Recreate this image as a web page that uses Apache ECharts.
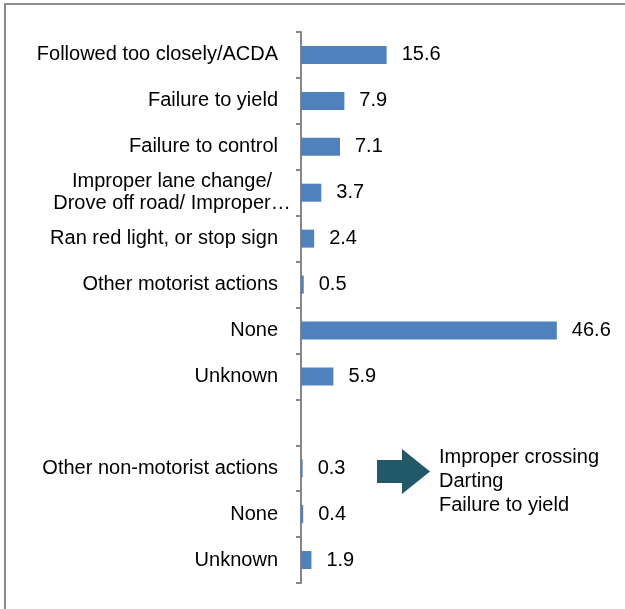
<!DOCTYPE html>
<html>
<head>
<meta charset="utf-8">
<script src="https://cdn.jsdelivr.net/npm/echarts@6/dist/echarts.min.js"></script>
<style>
  html, body { margin: 0; padding: 0; background: #fff; }
  #chart { width: 625px; height: 609px; }
</style>
</head>
<body>
<div id="chart"></div>
<script>
  // categories top to bottom (blank row separates motorist / non-motorist)
  const categories = [
    "Followed too closely/ACDA",
    "Failure to yield",
    "Failure to control",
    "Improper lane change/\nDrove off road/ Improper\u2026",
    "Ran red light, or stop sign",
    "Other motorist actions",
    "None",
    "Unknown",
    "",
    "Other non-motorist actions",
    "None",
    "Unknown",
  ];
  const values = [15.6, 7.9, 7.1, 3.7, 2.4, 0.5, 46.6, 5.9, null, 0.3, 0.4, 1.9];
  const noteLines = ["Improper crossing", "Darting", "Failure to yield"];

  const FONT = "Liberation Sans";
  const chart = echarts.init(document.getElementById("chart"));

  // the two-line label is centred in the original, the others right aligned
  const yData = categories.map((c) =>
    c.indexOf("\n") >= 0
      ? { value: c, textStyle: { align: "center", lineHeight: 22, padding: [2, 212, 0, 0] } }
      : c
  );

  chart.setOption({
    animation: false,
    grid: { left: 301, top: 32, bottom: 26, right: 49.5 },
    xAxis: {
      type: "value",
      min: 0,
      max: 50,
      show: false,
    },
    yAxis: {
      type: "category",
      data: yData,
      inverse: true,
      axisLine: { lineStyle: { color: "#868686", width: 2 } },
      axisTick: { show: true, length: 5, lineStyle: { color: "#868686", width: 2 } },
      axisLabel: {
        margin: 23,
        color: "#000",
        fontFamily: FONT,
        fontSize: 20,
        lineHeight: 21,
        align: "right",
      },
    },
    series: [
      {
        type: "bar",
        data: values,
        barWidth: 18,
        itemStyle: { color: "#4F81BD" },
        label: {
          show: true,
          position: "right",
          distance: 15,
          color: "#000",
          fontFamily: FONT,
          fontSize: 20,
        },
      },
    ],
    graphic: [
      // frame (top and left edges)
      {
        type: "polyline",
        shape: { points: [[5, 609], [5, 4], [625, 4]] },
        style: { stroke: "#8c8c8c", lineWidth: 2, fill: null },
      },
      // arrow
      {
        type: "polygon",
        shape: {
          points: [[377, 460], [402, 460], [402, 449], [430, 471.5], [402, 494], [402, 483], [377, 483]],
        },
        style: { fill: "#215968" },
      },
      {
        type: "text",
        left: 439,
        top: 445,
        style: {
          text: noteLines.join("\n"),
          font: "20px " + FONT,
          lineHeight: 24,
          fill: "#000",
        },
      },
    ],
  });
</script>
</body>
</html>
